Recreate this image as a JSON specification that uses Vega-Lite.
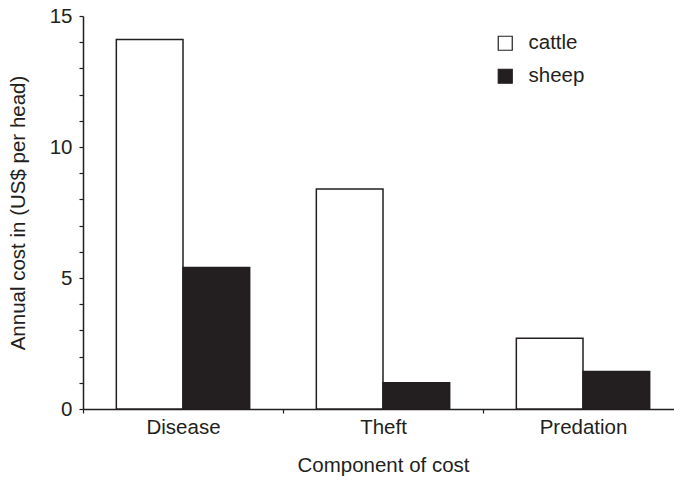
{
  "$schema": "https://vega.github.io/schema/vega-lite/v6.json",
  "width": 591,
  "height": 393,
  "autosize": {"type": "none"},
  "padding": {"left": 83, "top": 16, "right": 0, "bottom": 72},
  "background": "white",
  "data": {
    "values": [
      {"component": "Disease", "animal": "cattle", "cost": 14.1},
      {"component": "Disease", "animal": "sheep", "cost": 5.4},
      {"component": "Theft", "animal": "cattle", "cost": 8.4},
      {"component": "Theft", "animal": "sheep", "cost": 1.0},
      {"component": "Predation", "animal": "cattle", "cost": 2.7},
      {"component": "Predation", "animal": "sheep", "cost": 1.43}
    ]
  },
  "mark": {"type": "bar", "stroke": "#231f20", "strokeWidth": 1.5},
  "encoding": {
    "x": {
      "field": "component",
      "type": "nominal",
      "sort": ["Disease", "Theft", "Predation"],
      "scale": {"range": [0, 600], "paddingInner": 0, "paddingOuter": 0},
      "axis": {
        "title": "Component of cost",
        "labelAngle": 0,
        "tickBand": "extent",
        "tickSize": 4,
        "labelPadding": 4,
        "titlePadding": 18
      }
    },
    "xOffset": {
      "field": "animal",
      "type": "nominal",
      "sort": ["cattle", "sheep"],
      "scale": {"paddingInner": 0, "paddingOuter": 0.5}
    },
    "y": {
      "field": "cost",
      "type": "quantitative",
      "scale": {"domain": [0, 15], "nice": false},
      "axis": {
        "title": "Annual cost in (US$ per head)",
        "values": [0, 1, 2, 3, 4, 5, 6, 7, 8, 9, 10, 11, 12, 13, 14, 15],
        "labelExpr": "datum.value % 5 === 0 ? datum.label : ''",
        "tickSize": 4,
        "labelPadding": 7,
        "titlePadding": 21
      }
    },
    "fill": {
      "field": "animal",
      "type": "nominal",
      "scale": {"domain": ["cattle", "sheep"], "range": ["white", "#231f20"]},
      "legend": {
        "title": null,
        "orient": "none",
        "legendX": 412,
        "legendY": 17,
        "symbolType": "square",
        "symbolSize": 196,
        "symbolStrokeColor": "#231f20",
        "symbolStrokeWidth": 1.2,
        "labelFontSize": 20.5,
        "labelFont": "Liberation Sans",
        "labelColor": "#231f20",
        "labelOffset": 13,
        "rowPadding": 12,
        "padding": 0
      }
    }
  },
  "config": {
    "view": {"stroke": null},
    "axis": {
      "grid": false,
      "domainColor": "#231f20",
      "domainWidth": 1.5,
      "tickColor": "#231f20",
      "tickWidth": 1.2,
      "labelColor": "#231f20",
      "titleColor": "#231f20",
      "labelFont": "Liberation Sans",
      "titleFont": "Liberation Sans",
      "labelFontSize": 20.5,
      "titleFontSize": 20.5,
      "titleFontWeight": "normal"
    }
  }
}
